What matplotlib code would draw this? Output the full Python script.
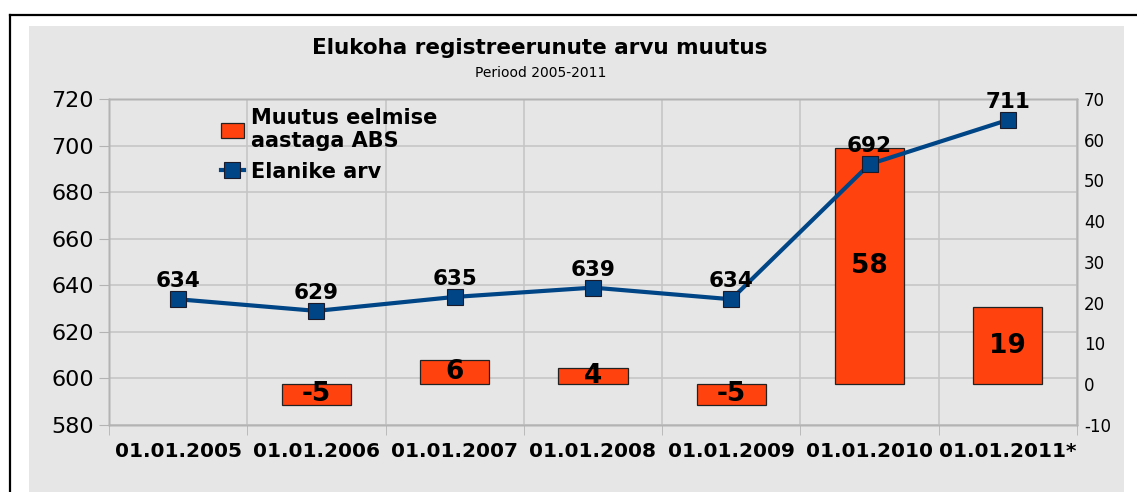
import matplotlib
matplotlib.use("Agg")
import matplotlib.pyplot as plt
from matplotlib.patches import Rectangle
from matplotlib.lines import Line2D
import numpy as np

plt.rcParams['font.family'] = ['DejaVu Sans']
plt.rcParams['axes.unicode_minus'] = False

dates = ['01.01.2005', '01.01.2006', '01.01.2007', '01.01.2008',
         '01.01.2009', '01.01.2010', '01.01.2011*']
residents = [634, 629, 635, 639, 634, 692, 711]
change = [np.nan, -5, 6, 4, -5, 58, 19]
left_ticks = [580, 600, 620, 640, 660, 680, 700, 720]
right_ticks = [-10, 0, 10, 20, 30, 40, 50, 60, 70]

title = 'Elukoha registreerunute arvu muutus'
subtitle = 'Periood 2005-2011'
bar_name = 'Muutus eelmise\naastaga ABS'
line_name = 'Elanike arv'

BAR_C = '#ff420e'
LINE_C = '#004586'
GRID_C = '#c6c6c6'
AXIS_C = '#b3b3b3'
BG = '#e6e6e6'

W, H = 1137, 492
fig = plt.figure(figsize=(W / 100, H / 100), dpi=100)
fig.patch.set_facecolor('white')

# gray panel and black frame
fig.patches.append(Rectangle((29 / W, 0), (1124 - 29) / W, 1 - 26 / H,
                             transform=fig.transFigure, facecolor=BG,
                             edgecolor='none', zorder=-10))
fig.lines.append(Line2D([10 / W, 1.0], [1 - 15 / H, 1 - 15 / H],
                        transform=fig.transFigure, color='black', lw=1.6))
fig.lines.append(Line2D([10 / W, 10 / W], [0, 1 - 15 / H],
                        transform=fig.transFigure, color='black', lw=1.6))

x = np.arange(len(dates))
rect = [109 / W, 67 / H, (1077 - 109) / W, (425 - 99) / H]

ax = fig.add_axes(rect)          # grid + left labels
ax_bar = ax.twinx()              # bars (right scale)
ax_line = ax.twinx()             # line (left scale)

for a in (ax, ax_bar, ax_line):
    a.set_xlim(-0.5, len(dates) - 0.5)
    a.patch.set_visible(False)
    for s in a.spines.values():
        s.set_color(AXIS_C)
        s.set_linewidth(1.0)

ax.set_ylim(left_ticks[0], left_ticks[-1])
ax.set_yticks(left_ticks)
ax.set_xticks(x)
ax.set_xticklabels(dates, fontsize=14.5, fontweight='bold')
ax.set_xticks(np.append(x - 0.5, x[-1] + 0.5), minor=True)
ax.tick_params(axis='x', which='major', length=0, pad=12)
ax.tick_params(axis='x', which='minor', length=7, color=AXIS_C)
ax.tick_params(axis='y', length=7, color=AXIS_C, labelsize=16, pad=4)
ax.grid(True, axis='y', color=GRID_C, lw=1.2)
ax.grid(True, axis='x', which='minor', color=GRID_C, lw=1.2)
ax.set_axisbelow(True)

ax_bar.set_ylim(right_ticks[0], right_ticks[-1])
ax_bar.set_yticks(right_ticks)
ax_bar.tick_params(axis='y', length=0, labelsize=12, pad=5)
bars = ax_bar.bar(x, change, width=0.5, color=BAR_C, edgecolor='#222222',
                  linewidth=0.9, label=bar_name)
for xi, v in zip(x, change):
    if np.isnan(v):
        continue
    ax_bar.text(xi, v / 2, f'{v:g}', ha='center', va='center',
                fontsize=19, fontweight='bold', color='black')

ax_line.set_ylim(left_ticks[0], left_ticks[-1])
ax_line.set_yticks([])
ln, = ax_line.plot(x, residents, color=LINE_C, lw=3, marker='s',
                   markersize=11, markerfacecolor=LINE_C,
                   markeredgecolor='#1a1a2a', markeredgewidth=0.8,
                   label=line_name)
for xi, v in zip(x, residents):
    ax_line.annotate(f'{v}', (xi, v), xytext=(0, 8.5), textcoords='offset points',
                     ha='center', va='baseline', fontsize=15.5, fontweight='bold')

leg = ax_line.legend(handles=[bars, ln], loc='upper left',
                     bbox_to_anchor=(0.096, 1.03), frameon=False,
                     prop={'size': 15, 'weight': 'bold'}, handlelength=1.1,
                     handletextpad=0.35, labelspacing=0.5)

fig.text(540 / W, 1 - 48.5 / H, title, ha='center', va='center',
         fontsize=15.5, fontweight='bold')
fig.text(541 / W, 1 - 73 / H, subtitle, ha='center', va='center', fontsize=10)

fig.savefig('out.png', dpi=100)
